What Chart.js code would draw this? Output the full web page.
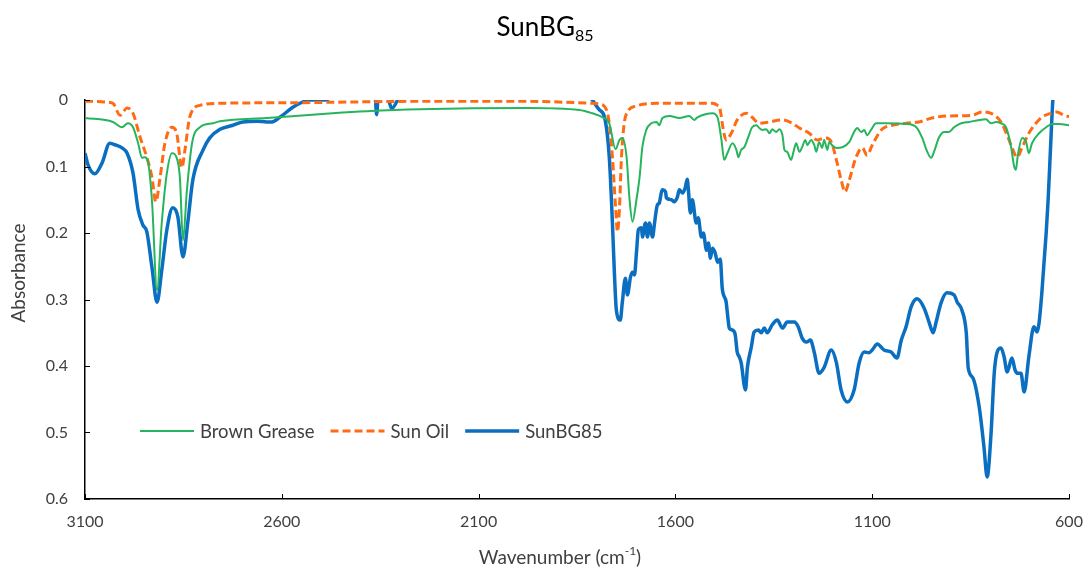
<!DOCTYPE html>
<html>
<head>
<meta charset="utf-8">
<title>SunBG85</title>
<script src="https://cdn.jsdelivr.net/npm/chart.js@4/dist/chart.umd.min.js"></script>
<style>
  html, body { margin: 0; padding: 0; background: #fff; }
  #wrap { width: 1084px; height: 575px; }
</style>
</head>
<body>
<div id="wrap"><canvas id="ftir" width="1084" height="575"></canvas></div>
<script>
// FTIR spectra, wavenumber (cm-1) vs absorbance

// Brown Grease
const greaseWn = [3100, 3029, 3006, 2991, 2978, 2965, 2955, 2948, 2940, 2930, 2917, 2905, 2892, 2879, 2867, 2859, 2851, 2841, 2828, 2808,
  2775, 2757, 2638, 2471, 2384, 2250, 1978, 1844, 1811, 1785, 1768, 1752, 1742, 1735, 1724, 1717, 1709, 1699, 1691, 1684,
  1674, 1661, 1648, 1641, 1633, 1615, 1590, 1565, 1552, 1544, 1521, 1506, 1493, 1483, 1476, 1468, 1455, 1445, 1440, 1433,
  1425, 1415, 1405, 1394, 1387, 1379, 1369, 1361, 1354, 1344, 1336, 1328, 1323, 1316, 1306, 1300, 1293, 1285, 1278, 1270,
  1265, 1255, 1247, 1242, 1235, 1227, 1222, 1214, 1209, 1202, 1191, 1176, 1158, 1146, 1138, 1128, 1120, 1113, 1103, 1090,
  1065, 1014, 988, 973, 960, 950, 943, 930, 917, 905, 892, 874, 854, 828, 811, 798, 785, 773, 760, 747,
  740, 735, 730, 719, 709, 702, 694, 676, 658, 643, 625, 600];
const greaseAbs = [0.027, 0.033, 0.041, 0.035, 0.041, 0.065, 0.087, 0.086, 0.093, 0.150, 0.286, 0.185, 0.110, 0.080, 0.087, 0.116, 0.211, 0.135, 0.065, 0.041,
  0.035, 0.032, 0.027, 0.020, 0.017, 0.014, 0.012, 0.015, 0.020, 0.026, 0.035, 0.074, 0.060, 0.057, 0.086, 0.146, 0.183, 0.150, 0.116, 0.071,
  0.045, 0.035, 0.033, 0.038, 0.027, 0.024, 0.027, 0.024, 0.030, 0.026, 0.021, 0.020, 0.026, 0.060, 0.090, 0.080, 0.065, 0.075, 0.086, 0.075,
  0.071, 0.056, 0.041, 0.038, 0.042, 0.045, 0.044, 0.050, 0.044, 0.048, 0.044, 0.053, 0.075, 0.078, 0.090, 0.078, 0.065, 0.078, 0.071, 0.060,
  0.068, 0.060, 0.068, 0.078, 0.063, 0.072, 0.060, 0.075, 0.063, 0.068, 0.072, 0.071, 0.063, 0.048, 0.042, 0.048, 0.045, 0.053, 0.045, 0.035,
  0.035, 0.036, 0.041, 0.057, 0.078, 0.087, 0.078, 0.056, 0.048, 0.048, 0.041, 0.035, 0.033, 0.030, 0.029, 0.035, 0.033, 0.035, 0.041, 0.071,
  0.098, 0.105, 0.083, 0.057, 0.063, 0.080, 0.065, 0.050, 0.041, 0.036, 0.036, 0.038];

// Sun Oil
const sunOilWn = [3100, 3082, 3049, 3029, 3011, 2993, 2978, 2960, 2943, 2930, 2920, 2910, 2897, 2879, 2867, 2854, 2846, 2834, 2808, 2757,
  2554, 2250, 1978, 1811, 1793, 1775, 1768, 1760, 1752, 1747, 1742, 1737, 1730, 1722, 1699, 1648, 1506, 1493, 1488, 1483,
  1481, 1471, 1458, 1443, 1420, 1405, 1387, 1361, 1328, 1303, 1285, 1260, 1240, 1217, 1204, 1191, 1179, 1169, 1158, 1141,
  1125, 1113, 1100, 1077, 1049, 1014, 981, 948, 905, 846, 821, 798, 773, 757, 745, 732, 719, 702, 684, 669,
  646, 631, 613, 600];
const sunOilAbs = [0.002, 0.002, 0.003, 0.005, 0.023, 0.012, 0.020, 0.056, 0.086, 0.116, 0.153, 0.120, 0.065, 0.041, 0.050, 0.102, 0.075, 0.026, 0.008, 0.005,
  0.004, 0.002, 0.002, 0.005, 0.006, 0.015, 0.035, 0.086, 0.161, 0.198, 0.161, 0.086, 0.035, 0.018, 0.009, 0.005, 0.005, 0.008, 0.011, 0.026,
  0.035, 0.060, 0.050, 0.030, 0.020, 0.026, 0.035, 0.033, 0.030, 0.035, 0.042, 0.050, 0.060, 0.057, 0.063, 0.090, 0.120, 0.138, 0.120, 0.086,
  0.072, 0.083, 0.068, 0.045, 0.038, 0.035, 0.033, 0.027, 0.024, 0.023, 0.018, 0.020, 0.033, 0.053, 0.071, 0.086, 0.071, 0.050, 0.035, 0.026,
  0.020, 0.018, 0.023, 0.025];

// SunBG85 (negative readings fall outside the 0 - 0.6 window)
const blendWn = [3100, 3092, 3075, 3057, 3037, 3021, 3006, 2993, 2978, 2965, 2953, 2943, 2930, 2917, 2905, 2892, 2877, 2864, 2851, 2839,
  2826, 2800, 2783, 2757, 2724, 2699, 2663, 2638, 2625, 2605, 2572, 2547, 2529, 2486, 2470, 2420, 2370, 2363, 2359, 2355,
  2340, 2332, 2328, 2321, 2306, 2300, 2200, 2000, 1850, 1825, 1811, 1793, 1780, 1768, 1760, 1755, 1750, 1740, 1735, 1727,
  1722, 1714, 1709, 1704, 1699, 1694, 1686, 1684, 1676, 1671, 1666, 1658, 1653, 1646, 1641, 1636, 1633, 1625, 1623, 1610,
  1603, 1595, 1590, 1582, 1575, 1570, 1567, 1562, 1557, 1547, 1542, 1534, 1529, 1521, 1516, 1511, 1506, 1499, 1493, 1486,
  1481, 1471, 1468, 1463, 1455, 1448, 1443, 1438, 1433, 1422, 1417, 1407, 1400, 1389, 1382, 1374, 1367, 1354, 1341, 1328,
  1316, 1298, 1288, 1278, 1267, 1257, 1247, 1235, 1222, 1204, 1191, 1179, 1163, 1146, 1133, 1120, 1108, 1100, 1087, 1070,
  1052, 1037, 1026, 1014, 1001, 986, 968, 955, 945, 938, 925, 910, 892, 884, 872, 861, 856, 844, 828, 816,
  808, 798, 790, 783, 773, 765, 757, 745, 737, 730, 722, 714, 702, 689, 681, 676, 669, 658, 653, 646,
  641, 630, 600];
const blendAbs = [0.080, 0.098, 0.111, 0.095, 0.065, 0.068, 0.072, 0.080, 0.110, 0.165, 0.188, 0.198, 0.251, 0.304, 0.256, 0.195, 0.162, 0.176, 0.236, 0.185,
  0.120, 0.075, 0.057, 0.044, 0.038, 0.033, 0.032, 0.033, 0.033, 0.026, 0.011, 0.003, 0.000, 0.000, -0.010, -0.030, -0.030, -0.010, 0.022, -0.010,
  -0.030, -0.010, 0.000, 0.013, 0.000, -0.010, -0.030, -0.030, -0.030, -0.010, 0.000, 0.015, 0.026, 0.086, 0.185, 0.260, 0.316, 0.331, 0.305, 0.268,
  0.293, 0.266, 0.259, 0.263, 0.230, 0.195, 0.192, 0.206, 0.185, 0.206, 0.185, 0.206, 0.185, 0.158, 0.155, 0.140, 0.135, 0.138, 0.147, 0.150,
  0.153, 0.146, 0.135, 0.140, 0.132, 0.119, 0.135, 0.170, 0.150, 0.185, 0.177, 0.206, 0.200, 0.226, 0.215, 0.238, 0.223, 0.230, 0.244, 0.239,
  0.283, 0.304, 0.320, 0.343, 0.346, 0.353, 0.379, 0.386, 0.395, 0.436, 0.402, 0.371, 0.349, 0.346, 0.350, 0.343, 0.350, 0.338, 0.331, 0.343,
  0.334, 0.334, 0.341, 0.358, 0.364, 0.361, 0.380, 0.411, 0.402, 0.376, 0.395, 0.436, 0.454, 0.436, 0.395, 0.379, 0.380, 0.376, 0.367, 0.376,
  0.379, 0.388, 0.361, 0.341, 0.311, 0.299, 0.313, 0.335, 0.350, 0.335, 0.305, 0.290, 0.293, 0.304, 0.316, 0.350, 0.403, 0.418, 0.462, 0.522,
  0.567, 0.501, 0.411, 0.380, 0.373, 0.386, 0.409, 0.388, 0.406, 0.411, 0.411, 0.439, 0.386, 0.341, 0.349, 0.335, 0.290, 0.200, 0.150, 0.060,
  0.000, -0.050, -0.080];

const xTicks = { min: 600, max: 3100, step: 500 };
const yTicks = { min: 0, max: 0.6, step: 0.1 };

const FONT = "Lato, 'Open Sans', sans-serif";
const TEXT = '#404040';

function toPoints(wn, abs) {
  return wn.map((w, i) => ({ x: w, y: abs[i] }));
}

// ticks in Excel style: short marks pointing into the plot
const innerTicks = {
  id: 'innerTicks',
  afterDatasetsDraw(chart) {
    const { ctx, chartArea: area, scales } = chart;
    ctx.save();
    ctx.strokeStyle = '#000';
    ctx.lineWidth = 1;
    scales.y.ticks.forEach(t => {
      const py = Math.round(scales.y.getPixelForValue(t.value)) + 0.5;
      ctx.beginPath();
      ctx.moveTo(area.left, py);
      ctx.lineTo(area.left + 5, py);
      ctx.stroke();
    });
    scales.x.ticks.forEach(t => {
      const px = Math.round(scales.x.getPixelForValue(t.value)) + 0.5;
      ctx.beginPath();
      ctx.moveTo(px, area.bottom);
      ctx.lineTo(px, area.bottom - 5);
      ctx.stroke();
    });
    ctx.restore();
  }
};

// title with subscript, axis titles with superscript, legend inside the plot
const labels = {
  id: 'labels',
  afterDraw(chart) {
    const { ctx } = chart;
    ctx.save();
    ctx.fillStyle = '#000';
    ctx.textBaseline = 'alphabetic';

    // title: SunBG + subscript 85
    ctx.font = '26px ' + FONT;
    const main = 'SunBG';
    const wMain = ctx.measureText(main).width;
    ctx.font = '16px ' + FONT;
    const wSub = ctx.measureText('85').width;
    let tx = 545 - (wMain + wSub) / 2;
    ctx.font = '26px ' + FONT;
    ctx.fillText(main, tx, 36);
    ctx.font = '16px ' + FONT;
    ctx.fillText('85', tx + wMain, 41);

    // x axis title
    ctx.fillStyle = TEXT;
    const a = 'Wavenumber (cm', b = '-1', c = ')';
    ctx.font = '19px ' + FONT;
    const wa = ctx.measureText(a).width, wc = ctx.measureText(c).width;
    ctx.font = '12px ' + FONT;
    const wb = ctx.measureText(b).width;
    let ax = 560 - (wa + wb + wc) / 2;
    ctx.font = '19px ' + FONT;
    ctx.fillText(a, ax, 564);
    ctx.font = '12px ' + FONT;
    ctx.fillText(b, ax + wa, 555);
    ctx.font = '19px ' + FONT;
    ctx.fillText(c, ax + wa + wb, 564);

    // y axis title
    ctx.save();
    ctx.translate(25, 273);
    ctx.rotate(-Math.PI / 2);
    ctx.textAlign = 'center';
    ctx.fillText('Absorbance', 0, 0);
    ctx.restore();

    // legend
    ctx.font = '18.5px ' + FONT;
    ctx.textBaseline = 'middle';
    let lx = 140;
    const ly = 431;
    chart.data.datasets.forEach(ds => {
      ctx.save();
      ctx.strokeStyle = ds.borderColor;
      ctx.lineWidth = ds.borderWidth;
      ctx.setLineDash(ds.borderDash || []);
      ctx.beginPath();
      ctx.moveTo(lx, ly);
      ctx.lineTo(lx + 54, ly);
      ctx.stroke();
      ctx.restore();
      ctx.fillStyle = TEXT;
      ctx.fillText(ds.label, lx + 60, ly + 1);
      lx += 60 + ctx.measureText(ds.label).width + 16;
    });
    ctx.restore();
  }
};

new Chart(document.getElementById('ftir'), {
  type: 'line',
  data: {
    datasets: [
      {
        label: 'Brown Grease',
        data: toPoints(greaseWn, greaseAbs),
        borderColor: '#26B45C',
        borderWidth: 2,
      },
      {
        label: 'Sun Oil',
        data: toPoints(sunOilWn, sunOilAbs),
        borderColor: '#FF6B14',
        borderWidth: 3,
        borderDash: [8, 4],
      },
      {
        label: 'SunBG85',
        data: toPoints(blendWn, blendAbs),
        borderColor: '#0B6FC1',
        borderWidth: 3.5,
      }
    ]
  },
  options: {
    responsive: false,
    animation: false,
    events: [],
    layout: { padding: { top: 100, right: 15, bottom: 0, left: 0 } },
    elements: {
      point: { radius: 0 },
      line: { cubicInterpolationMode: 'monotone', fill: false }
    },
    plugins: {
      legend: { display: false },
      title: { display: false },
      tooltip: { enabled: false }
    },
    scales: {
      x: {
        type: 'linear',
        reverse: true,
        min: xTicks.min,
        max: xTicks.max,
        afterFit(scale) {
          scale.height = 76;
          scale.paddingLeft = 0;
          scale.paddingRight = 0;
        },
        ticks: {
          stepSize: xTicks.step,
          color: TEXT,
          font: { family: FONT, size: 16 },
          padding: 13,
          callback: v => String(v)
        },
        grid: { drawOnChartArea: false, drawTicks: false },
        border: { color: '#000', width: 1.5 }
      },
      y: {
        reverse: true,
        min: yTicks.min,
        max: yTicks.max,
        afterFit(scale) { scale.width = 85; },
        ticks: {
          stepSize: yTicks.step,
          color: TEXT,
          font: { family: FONT, size: 16 },
          padding: 17,
          callback: v => String(Number(v.toFixed(1)))
        },
        grid: { drawOnChartArea: false, drawTicks: false },
        border: { color: '#000', width: 1.5 }
      }
    }
  },
  plugins: [innerTicks, labels]
});
</script>
</body>
</html>
